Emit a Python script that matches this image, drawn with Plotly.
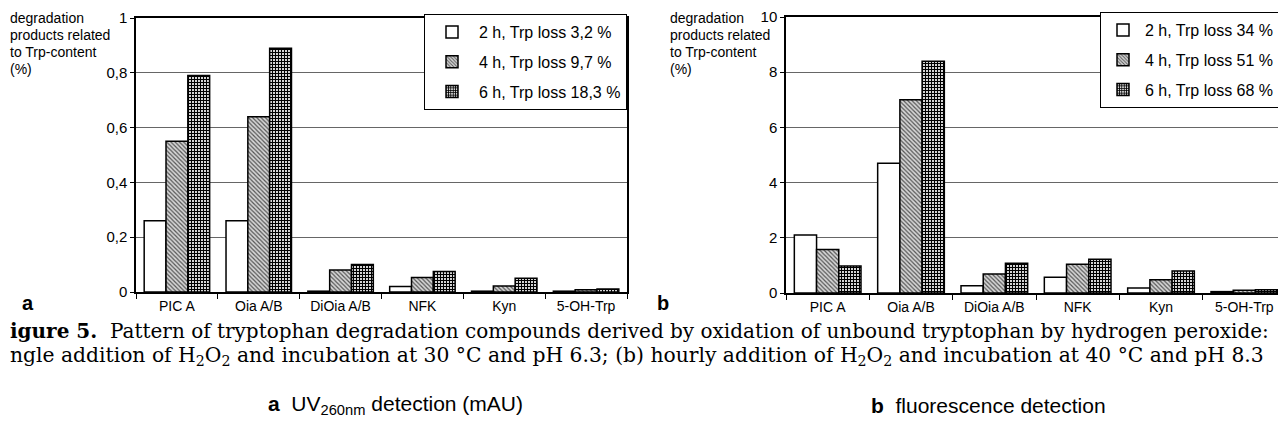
import plotly.graph_objects as go

# The page body adds an 8 px margin, so the figure is drawn at page (8, 8).
OFF = 8
W, H = 1286 - OFF, 429 - OFF

categories = ["PIC A", "Oia A/B", "DiOia A/B", "NFK", "Kyn", "5-OH-Trp"]

a_names = ["2 h, Trp loss 3,2 %", "4 h, Trp loss 9,7 %", "6 h, Trp loss 18,3 %"]
a_2h = [0.26, 0.26, 0.003, 0.02, 0.003, 0.003]
a_4h = [0.55, 0.64, 0.08, 0.053, 0.022, 0.008]
a_6h = [0.79, 0.89, 0.10, 0.075, 0.05, 0.011]

b_names = ["2 h, Trp loss 34 %", "4 h, Trp loss 51 %", "6 h, Trp loss 68 %"]
b_2h = [2.1, 4.7, 0.26, 0.57, 0.18, 0.05]
b_4h = [1.58, 7.0, 0.69, 1.04, 0.48, 0.10]
b_6h = [0.98, 8.4, 1.08, 1.22, 0.80, 0.12]

a_ticks = [0, 0.2, 0.4, 0.6, 0.8, 1]
a_ticktext = ["0", "0,2", "0,4", "0,6", "0,8", "1"]
b_ticks = [0, 2, 4, 6, 8, 10]
b_ticktext = ["0", "2", "4", "6", "8", "10"]

ylab_lines = ["degradation", "products related", "to Trp-content", "(%)"]

SANS = "Liberation Sans"
SERIF = "DejaVu Serif"

styles = [
    dict(color="white", pattern=None),
    dict(color="#d0d0d0", pattern=dict(shape="\\", fgcolor="#555", bgcolor="#d6d6d6", size=3, solidity=0.4)),
    dict(color="white", pattern=dict(shape="+", fgcolor="#000", bgcolor="#e6e6e6", size=3, solidity=0.62)),
]

fig = go.Figure()

def add_panel(vals, names, xa, ya, legend):
    for v, n, s in zip(vals, names, styles):
        marker = dict(color=s["color"], line=dict(color="black", width=1.5))
        if s["pattern"]:
            marker["pattern"] = s["pattern"]
        fig.add_trace(go.Bar(x=categories, y=v, name=n, marker=marker,
                             xaxis=xa, yaxis=ya, legend=legend, legendgroup=legend + n))

add_panel([a_2h, a_4h, a_6h], a_names, "x", "y", "legend")
add_panel([b_2h, b_4h, b_6h], b_names, "x2", "y2", "legend2")

def px_x(p):  # page pixel -> paper
    return (p - OFF) / W

def px_y(p):
    return (H - (p - OFF)) / H

xcommon = dict(type="category", showline=True, linecolor="black", linewidth=1.5, mirror=True,
               ticks="outside", ticklen=5, tickcolor="black", tickson="boundaries",
               tickfont=dict(family=SANS, size=14, color="black"), showgrid=False,
               automargin=False)
ycommon = dict(showline=True, linecolor="black", linewidth=1.5, mirror=True,
               ticks="outside", ticklen=4, tickcolor="black",
               showgrid=True, gridcolor="#666", gridwidth=1,
               tickfont=dict(family=SANS, size=15, color="black"), zeroline=False,
               automargin=False)

legend_common = dict(xanchor="left", yanchor="top", bgcolor="white", bordercolor="black",
                     borderwidth=1, font=dict(family=SANS, size=16, color="black"),
                     tracegroupgap=6)

fig.update_layout(
    width=W, height=H,
    template="none",
    margin=dict(l=0, r=0, t=0, b=0, autoexpand=False),
    paper_bgcolor="white", plot_bgcolor="white",
    barmode="group", bargap=0.2, bargroupgap=0,
    xaxis=dict(domain=[px_x(136), px_x(627)], anchor="y", **xcommon),
    yaxis=dict(domain=[px_y(292), px_y(18)], anchor="x", range=[0, 1],
               tickvals=a_ticks, ticktext=a_ticktext, **ycommon),
    xaxis2=dict(domain=[px_x(786), 1.0], anchor="y2", **xcommon),
    yaxis2=dict(domain=[px_y(293), px_y(17)], anchor="x2", range=[0, 10],
                tickvals=b_ticks, ticktext=b_ticktext, **ycommon),
    legend=dict(x=px_x(424), y=px_y(14), itemwidth=44, **legend_common),
    legend2=dict(x=px_x(1100), y=px_y(12), itemwidth=34, **legend_common),
    showlegend=True,
)

for x0 in (8, 668):
    for i, line in enumerate(ylab_lines):
        fig.add_annotation(xref="paper", yref="paper", x=px_x(x0), y=px_y(18 + 17 * i),
                           text=line, xanchor="left", yanchor="middle", showarrow=False,
                           font=dict(family=SANS, size=14, color="black"))

fig.add_annotation(xref="paper", yref="paper", x=px_x(20), y=px_y(303), text="<b>a</b>",
                   xanchor="left", yanchor="middle", showarrow=False,
                   font=dict(family=SANS, size=20, color="black"))
fig.add_annotation(xref="paper", yref="paper", x=px_x(655), y=px_y(303), text="<b>b</b>",
                   xanchor="left", yanchor="middle", showarrow=False,
                   font=dict(family=SANS, size=20, color="black"))

cap1 = ("<b>igure 5.</b>  Pattern of tryptophan degradation compounds derived by oxidation "
        "of unbound tryptophan by hydrogen peroxide:")
cap2 = ("ngle addition of H<sub>2</sub>O<sub>2</sub> and incubation at 30 °C and pH 6.3; "
        "(b) hourly addition of H<sub>2</sub>O<sub>2</sub> and incubation at 40 °C and pH 8.3")
fig.add_annotation(xref="paper", yref="paper", x=0, y=px_y(331), text=cap1,
                   xanchor="left", yanchor="middle", showarrow=False,
                   font=dict(family=SERIF, size=20, color="black"))
fig.add_annotation(xref="paper", yref="paper", x=0, y=px_y(356), text=cap2,
                   xanchor="left", yanchor="middle", showarrow=False,
                   font=dict(family=SERIF, size=20.3, color="black"))

fig.add_annotation(xref="paper", yref="paper", x=px_x(266), y=px_y(405),
                   text="<b>a</b>  UV<sub>260nm</sub> detection (mAU)",
                   xanchor="left", yanchor="middle", showarrow=False,
                   font=dict(family=SANS, size=21, color="black"))
fig.add_annotation(xref="paper", yref="paper", x=px_x(869), y=px_y(405),
                   text="<b>b</b>  fluorescence detection",
                   xanchor="left", yanchor="middle", showarrow=False,
                   font=dict(family=SANS, size=21, color="black"))

fig.write_html("out.html")
